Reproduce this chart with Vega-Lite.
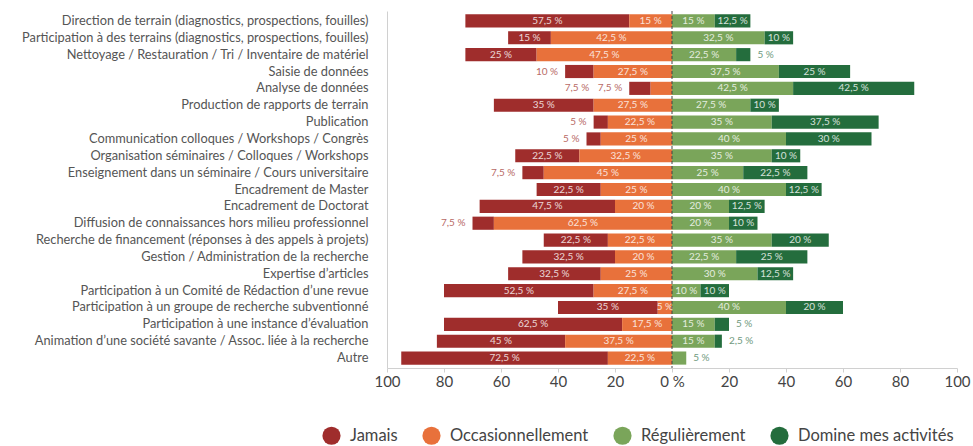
{
  "$schema": "https://vega.github.io/schema/vega-lite/v6.json",
  "autosize": "none",
  "width": 570,
  "height": 357,
  "padding": {"left": 387, "top": 11, "right": 16, "bottom": 78},
  "background": "white",
  "config": {
    "view": {"stroke": null},
    "font": "Lato",
    "axis": {"labelFont": "Lato", "titleFont": "Lato"},
    "legend": {"labelFont": "Lato"}
  },
  "layer": [
    {
      "data": {"values": [
        {"c": "Direction de terrain (diagnostics, prospections, fouilles)", "r": "Jamais", "p": 57.5},
        {"c": "Direction de terrain (diagnostics, prospections, fouilles)", "r": "Occasionnellement", "p": 15},
        {"c": "Direction de terrain (diagnostics, prospections, fouilles)", "r": "Régulièrement", "p": 15},
        {"c": "Direction de terrain (diagnostics, prospections, fouilles)", "r": "Domine mes activités", "p": 12.5},
        {"c": "Participation à des terrains (diagnostics, prospections, fouilles)", "r": "Jamais", "p": 15},
        {"c": "Participation à des terrains (diagnostics, prospections, fouilles)", "r": "Occasionnellement", "p": 42.5},
        {"c": "Participation à des terrains (diagnostics, prospections, fouilles)", "r": "Régulièrement", "p": 32.5},
        {"c": "Participation à des terrains (diagnostics, prospections, fouilles)", "r": "Domine mes activités", "p": 10},
        {"c": "Nettoyage / Restauration / Tri / Inventaire de matériel", "r": "Jamais", "p": 25},
        {"c": "Nettoyage / Restauration / Tri / Inventaire de matériel", "r": "Occasionnellement", "p": 47.5},
        {"c": "Nettoyage / Restauration / Tri / Inventaire de matériel", "r": "Régulièrement", "p": 22.5},
        {"c": "Nettoyage / Restauration / Tri / Inventaire de matériel", "r": "Domine mes activités", "p": 5},
        {"c": "Saisie de données", "r": "Jamais", "p": 10},
        {"c": "Saisie de données", "r": "Occasionnellement", "p": 27.5},
        {"c": "Saisie de données", "r": "Régulièrement", "p": 37.5},
        {"c": "Saisie de données", "r": "Domine mes activités", "p": 25},
        {"c": "Analyse de données", "r": "Jamais", "p": 7.5},
        {"c": "Analyse de données", "r": "Occasionnellement", "p": 7.5},
        {"c": "Analyse de données", "r": "Régulièrement", "p": 42.5},
        {"c": "Analyse de données", "r": "Domine mes activités", "p": 42.5},
        {"c": "Production de rapports de terrain", "r": "Jamais", "p": 35},
        {"c": "Production de rapports de terrain", "r": "Occasionnellement", "p": 27.5},
        {"c": "Production de rapports de terrain", "r": "Régulièrement", "p": 27.5},
        {"c": "Production de rapports de terrain", "r": "Domine mes activités", "p": 10},
        {"c": "Publication", "r": "Jamais", "p": 5},
        {"c": "Publication", "r": "Occasionnellement", "p": 22.5},
        {"c": "Publication", "r": "Régulièrement", "p": 35},
        {"c": "Publication", "r": "Domine mes activités", "p": 37.5},
        {"c": "Communication colloques / Workshops / Congrès", "r": "Jamais", "p": 5},
        {"c": "Communication colloques / Workshops / Congrès", "r": "Occasionnellement", "p": 25},
        {"c": "Communication colloques / Workshops / Congrès", "r": "Régulièrement", "p": 40},
        {"c": "Communication colloques / Workshops / Congrès", "r": "Domine mes activités", "p": 30},
        {"c": "Organisation séminaires / Colloques / Workshops", "r": "Jamais", "p": 22.5},
        {"c": "Organisation séminaires / Colloques / Workshops", "r": "Occasionnellement", "p": 32.5},
        {"c": "Organisation séminaires / Colloques / Workshops", "r": "Régulièrement", "p": 35},
        {"c": "Organisation séminaires / Colloques / Workshops", "r": "Domine mes activités", "p": 10},
        {"c": "Enseignement dans un séminaire / Cours universitaire", "r": "Jamais", "p": 7.5},
        {"c": "Enseignement dans un séminaire / Cours universitaire", "r": "Occasionnellement", "p": 45},
        {"c": "Enseignement dans un séminaire / Cours universitaire", "r": "Régulièrement", "p": 25},
        {"c": "Enseignement dans un séminaire / Cours universitaire", "r": "Domine mes activités", "p": 22.5},
        {"c": "Encadrement de Master", "r": "Jamais", "p": 22.5},
        {"c": "Encadrement de Master", "r": "Occasionnellement", "p": 25},
        {"c": "Encadrement de Master", "r": "Régulièrement", "p": 40},
        {"c": "Encadrement de Master", "r": "Domine mes activités", "p": 12.5},
        {"c": "Encadrement de Doctorat", "r": "Jamais", "p": 47.5},
        {"c": "Encadrement de Doctorat", "r": "Occasionnellement", "p": 20},
        {"c": "Encadrement de Doctorat", "r": "Régulièrement", "p": 20},
        {"c": "Encadrement de Doctorat", "r": "Domine mes activités", "p": 12.5},
        {"c": "Diffusion de connaissances hors milieu professionnel", "r": "Jamais", "p": 7.5},
        {"c": "Diffusion de connaissances hors milieu professionnel", "r": "Occasionnellement", "p": 62.5},
        {"c": "Diffusion de connaissances hors milieu professionnel", "r": "Régulièrement", "p": 20},
        {"c": "Diffusion de connaissances hors milieu professionnel", "r": "Domine mes activités", "p": 10},
        {"c": "Recherche de financement (réponses à des appels à projets)", "r": "Jamais", "p": 22.5},
        {"c": "Recherche de financement (réponses à des appels à projets)", "r": "Occasionnellement", "p": 22.5},
        {"c": "Recherche de financement (réponses à des appels à projets)", "r": "Régulièrement", "p": 35},
        {"c": "Recherche de financement (réponses à des appels à projets)", "r": "Domine mes activités", "p": 20},
        {"c": "Gestion / Administration de la recherche", "r": "Jamais", "p": 32.5},
        {"c": "Gestion / Administration de la recherche", "r": "Occasionnellement", "p": 20},
        {"c": "Gestion / Administration de la recherche", "r": "Régulièrement", "p": 22.5},
        {"c": "Gestion / Administration de la recherche", "r": "Domine mes activités", "p": 25},
        {"c": "Expertise d’articles", "r": "Jamais", "p": 32.5},
        {"c": "Expertise d’articles", "r": "Occasionnellement", "p": 25},
        {"c": "Expertise d’articles", "r": "Régulièrement", "p": 30},
        {"c": "Expertise d’articles", "r": "Domine mes activités", "p": 12.5},
        {"c": "Participation à un Comité de Rédaction d’une revue", "r": "Jamais", "p": 52.5},
        {"c": "Participation à un Comité de Rédaction d’une revue", "r": "Occasionnellement", "p": 27.5},
        {"c": "Participation à un Comité de Rédaction d’une revue", "r": "Régulièrement", "p": 10},
        {"c": "Participation à un Comité de Rédaction d’une revue", "r": "Domine mes activités", "p": 10},
        {"c": "Participation à un  groupe de recherche subventionné", "r": "Jamais", "p": 35},
        {"c": "Participation à un  groupe de recherche subventionné", "r": "Occasionnellement", "p": 5},
        {"c": "Participation à un  groupe de recherche subventionné", "r": "Régulièrement", "p": 40},
        {"c": "Participation à un  groupe de recherche subventionné", "r": "Domine mes activités", "p": 20},
        {"c": "Participation à une instance d’évaluation", "r": "Jamais", "p": 62.5},
        {"c": "Participation à une instance d’évaluation", "r": "Occasionnellement", "p": 17.5},
        {"c": "Participation à une instance d’évaluation", "r": "Régulièrement", "p": 15},
        {"c": "Participation à une instance d’évaluation", "r": "Domine mes activités", "p": 5},
        {"c": "Animation d’une société savante / Assoc. liée  à la recherche", "r": "Jamais", "p": 45},
        {"c": "Animation d’une société savante / Assoc. liée  à la recherche", "r": "Occasionnellement", "p": 37.5},
        {"c": "Animation d’une société savante / Assoc. liée  à la recherche", "r": "Régulièrement", "p": 15},
        {"c": "Animation d’une société savante / Assoc. liée  à la recherche", "r": "Domine mes activités", "p": 2.5},
        {"c": "Autre", "r": "Jamais", "p": 72.5},
        {"c": "Autre", "r": "Occasionnellement", "p": 22.5},
        {"c": "Autre", "r": "Régulièrement", "p": 5},
        {"c": "Autre", "r": "Domine mes activités", "p": 0}
      ]},
      "transform": [
        {"calculate": "(datum.r == 'Jamais' || datum.r == 'Occasionnellement') ? -datum.p : datum.p", "as": "v"},
        {"stack": "v", "groupby": ["c"], "sort": [{"field": "r", "order": "descending"}], "as": ["v0", "v1"]},
        {"calculate": "(datum.v0 + datum.v1) / 2", "as": "mid"},
        {"joinaggregate": [{"op": "min", "field": "v1", "as": "lend"}], "groupby": ["c"]},
        {"calculate": "replace(toString(datum.p), '.', ',') + ' %'", "as": "lab"},
        {"calculate": "(datum.p > 0 && datum.p <= 7.5 && !(datum.r == 'Occasionnellement' && datum.c != 'Analyse de données')) || (datum.c == 'Saisie de données' && datum.r == 'Jamais')", "as": "out"}
      ],
      "encoding": {
        "y": {
          "field": "c", "type": "nominal", "sort": null, "title": null,
          "scale": {"paddingInner": 0.22, "paddingOuter": 0.2},
          "axis": {"ticks": false, "domain": true, "domainColor": "#d0d0d0", "domainWidth": 1, "labelFont": "Lato", "labelFontSize": 12.8, "labelColor": "#555555", "labelPadding": 19, "labelLimit": 400}
        }
      },
      "layer": [
        {
          "mark": {"type": "bar"},
          "encoding": {
            "x": {
              "field": "v0", "type": "quantitative",
              "scale": {"domain": [-100, 100], "nice": false, "zero": false},
              "title": null,
              "axis": {"values": [-100, -80, -60, -40, -20, 0, 20, 40, 60, 80, 100], "labelExpr": "datum.value == 0 ? '0 %' : toString(abs(datum.value))", "grid": false, "domainColor": "#d0d0d0", "tickColor": "#d0d0d0", "tickSize": 4, "labelFontSize": 15, "labelColor": "#444444", "labelPadding": 2, "labelFlush": false}
            },
            "x2": {"field": "v1"},
            "color": {
              "field": "r", "type": "nominal",
              "scale": {"domain": ["Jamais", "Occasionnellement", "Régulièrement", "Domine mes activités"], "range": ["#9f2d2c", "#e8713b", "#7aa55a", "#246d3d"]},
              "legend": {"title": null, "orient": "none", "direction": "horizontal", "legendX": -65, "legendY": 415, "symbolType": "circle", "symbolSize": 330, "symbolStrokeWidth": 0, "labelFontSize": 16.5, "labelColor": "#444444", "labelOffset": 9, "columnPadding": 24, "labelLimit": 300}
            }
          }
        },
        {
          "transform": [{"filter": "!datum.out && datum.p > 0"}],
          "mark": {"type": "text", "fontSize": 10, "color": "#ffffff", "opacity": 0.8},
          "encoding": {
            "x": {"field": "mid", "type": "quantitative"},
            "text": {"field": "lab"}
          }
        },
        {
          "transform": [{"filter": "datum.out && datum.v < 0 && !(datum.c == 'Analyse de données' && datum.r == 'Jamais')"}],
          "mark": {"type": "text", "fontSize": 10, "color": "#b86a66", "align": "right", "dx": -7},
          "encoding": {
            "x": {"field": "lend", "type": "quantitative"},
            "text": {"field": "lab"}
          }
        },
        {
          "transform": [{"filter": "datum.c == 'Analyse de données' && datum.r == 'Jamais'"}],
          "mark": {"type": "text", "fontSize": 10, "color": "#b86a66", "align": "right", "dx": -40},
          "encoding": {
            "x": {"field": "lend", "type": "quantitative"},
            "text": {"field": "lab"}
          }
        },
        {
          "transform": [{"filter": "datum.out && datum.v > 0"}],
          "mark": {"type": "text", "fontSize": 10, "color": "#6f9a7e", "align": "left", "dx": 7},
          "encoding": {
            "x": {"field": "v1", "type": "quantitative"},
            "text": {"field": "lab"}
          }
        }
      ]
    },
    {
      "data": {"values": [{"z": 0}]},
      "mark": {"type": "rule", "color": "#444444", "strokeDash": [3, 2], "strokeWidth": 1},
      "encoding": {"x": {"field": "z", "type": "quantitative"}}
    }
  ]
}
